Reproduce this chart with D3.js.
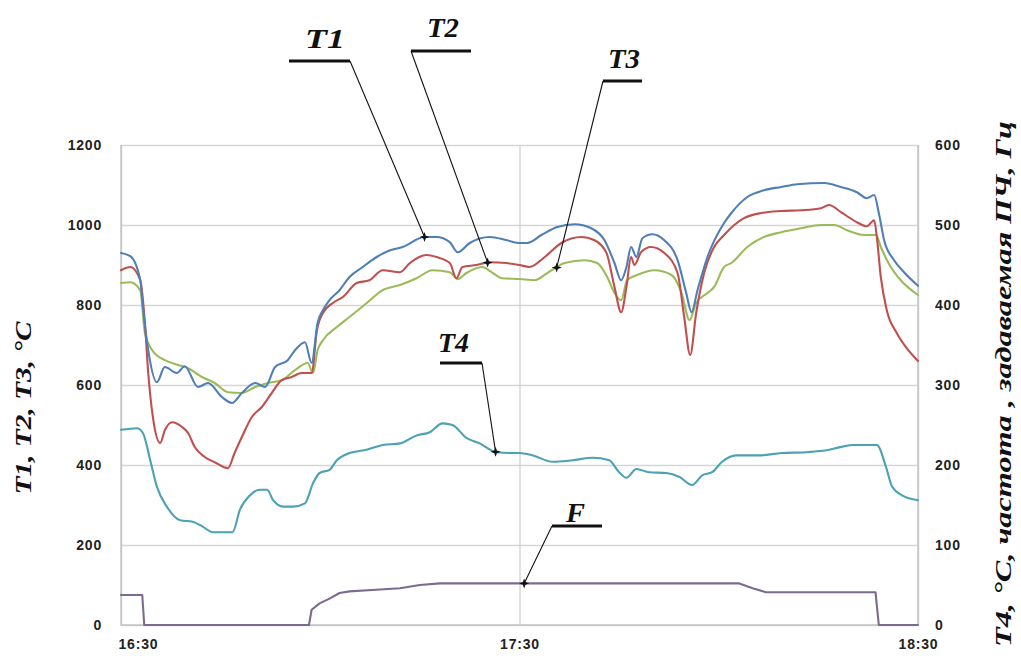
<!DOCTYPE html>
<html>
<head>
<meta charset="utf-8">
<script src="https://cdn.jsdelivr.net/npm/d3@7"></script>
<style>
  html, body { margin: 0; padding: 0; background: #fff; }
  svg { display: block; }
  .tick text { font-family: "Liberation Sans", Arial, sans-serif; font-weight: bold; font-size: 14px; letter-spacing: 0.8px; fill: #222; }
  .title { font-family: "Liberation Serif", "Times New Roman", serif; font-weight: bold; font-style: italic; fill: #111; }
</style>
</head>
<body>
<svg id="chart" width="1021" height="656"></svg>
<script>
// Time is measured in minutes after 16:30; temperatures in °C, frequency in Hz.
const t1 = [[0,930],[1.4,922],[2.9,862],[3.3,795],[4.1,687],[5.4,607],[6.6,645],[8.4,630],[9.6,647],[11.6,595],[13.1,605],[15.2,570],[16.7,555],[18.2,580],[20.2,605],[21.7,595],[23.2,645],[25.1,662],[26.2,687],[27.7,707],[28.7,655],[29.6,755],[30.4,787],[31.4,812],[32.9,837],[34.4,870],[36.4,895],[38.5,920],[40.5,937],[42.4,945],[45.7,970],[47.5,970],[49.5,957],[50.7,932],[52.5,955],[55.5,970],[58.1,962],[60,955],[61.2,955],[63.3,975],[65.7,995],[68.3,1002],[70.8,992],[72.8,962],[74.3,905],[75.3,862],[76.1,895],[76.8,945],[77.6,920],[78.5,967],[80,977],[81.8,962],[83.8,912],[85.1,830],[85.9,782],[86.8,837],[88.3,920],[90.8,1005],[91.9,1030],[94.3,1070],[96.8,1087],[99.4,1095],[101.8,1102],[105.9,1105],[108.4,1095],[110.8,1082],[112.3,1067],[113.4,1075],[114.1,1030],[114.9,962],[116.4,912],[117.9,882],[120,848]];

const t2 = [[0,887],[1.4,895],[2.9,862],[3.6,755],[4.1,630],[4.8,520],[5.9,455],[6.6,487],[7.7,507],[9.2,495],[10.1,480],[11.1,445],[12.6,420],[14.1,407],[16.1,392],[17.1,430],[18.2,470],[19.7,520],[21.2,545],[22.7,580],[24.2,612],[25.7,620],[27.2,630],[28.7,630],[29.5,737],[30.4,780],[31.9,805],[33.4,820],[35.5,855],[37.4,862],[39.4,887],[42,882],[43.5,905],[46,925],[47.5,920],[49.5,905],[50.5,867],[51.4,895],[53.5,900],[55.5,907],[58,905],[60,900],[61.5,895],[63.8,920],[66.3,955],[69.3,970],[71.3,962],[73.1,930],[74.3,845],[75.3,782],[76.1,845],[76.8,920],[77.3,900],[78.3,932],[79.8,945],[81.8,930],[83.8,880],[84.8,770],[85.7,675],[86.6,780],[87.8,880],[89.3,945],[90.8,975],[93.8,1017],[96.4,1030],[99.4,1035],[102.4,1037],[105.4,1042],[106.6,1050],[108.4,1032],[110.8,1007],[112.3,997],[113.4,1012],[113.8,970],[114.4,870],[115.3,787],[116.8,730],[118.3,692],[120,660]];

const t3 = [[0,855],[1.4,857],[2.9,837],[3.6,730],[4.7,687],[6.6,662],[8.6,650],[10.1,642],[12.2,620],[14.1,605],[16.1,582],[18.2,580],[20.2,595],[22.1,605],[24.2,612],[26.2,637],[28.1,655],[28.9,630],[29.6,687],[30.4,712],[32.5,745],[34.4,770],[37,805],[39.4,837],[42,850],[44.5,867],[46.9,887],[49.5,882],[50.7,865],[52,880],[54.4,895],[55.8,882],[57.4,867],[60,865],[62.3,862],[64.2,880],[66.8,905],[69.8,912],[71.7,905],[73.2,870],[74.3,830],[75.3,812],[76.2,862],[77.7,875],[80.3,887],[82.9,875],[84.4,830],[85.6,762],[86.6,805],[88.3,830],[89.3,845],[90.8,895],[91.9,905],[94.3,945],[96.8,970],[99.4,982],[102.4,992],[105.4,1000],[107.4,1000],[109.3,987],[111.9,975],[113.7,975],[114.4,945],[115.9,895],[117.4,862],[120,825]];

const t4 = [[0,244],[2.4,246],[3.3,240],[4.4,206],[5.4,173],[6.9,148],[8.9,131],[10.8,129],[12.3,123],[13.8,116],[15.9,116],[16.8,116],[17.9,144],[19.4,162],[20.9,169],[22,169],[22.9,156],[24.4,148],[25.9,148],[27.7,152],[28.9,177],[29.9,190],[31.4,194],[32.5,206],[34.4,215],[37,219],[39.4,225],[42,227],[44.5,237],[46.5,241],[48.4,252],[49.9,250],[52,234],[54,227],[56.5,216],[58.5,215],[60,215],[62,212],[65,204],[68,206],[71,209],[73.5,206],[75,191],[76.1,184],[77.6,195],[79.5,191],[82.1,190],[84.1,185],[86,175],[87.5,187],[89,191],[90.5,204],[92.6,212],[96.1,212],[99.5,215],[103.2,216],[106.6,219],[108.1,222],[110.1,225],[112.2,225],[113.8,225],[115.2,197],[116.1,173],[117.6,162],[120,156]];

const freq = [[0,37.5],[3.2,37.5],[3.5,0],[28.3,0],[28.7,19],[29.9,27],[31.4,33],[32.9,40],[34.4,42],[38.4,44],[42,46],[45,50],[48,52],[93.1,52],[95.1,46],[97.1,41],[113.6,41],[114.1,0],[120,0]];

const leftTicks = [0, 200, 400, 600, 800, 1000, 1200];
const rightTicks = [0, 100, 200, 300, 400, 500, 600];
const timeTicks = ["16:30", "17:30", "18:30"];

const leftTitle = "T1, T2, T3, °C";
const rightTitle = "T4, °C, частота , задаваемая ПЧ, Гц";

const series = [
  { name: "T4", data: t4, axis: "right", color: "#4aa2b3" },
  { name: "F",  data: freq, axis: "right", color: "#7c6a90" },
  { name: "T3", data: t3, axis: "left", color: "#9bbb59" },
  { name: "T2", data: t2, axis: "left", color: "#c0504d" },
  { name: "T1", data: t1, axis: "left", color: "#4f7fb6" }
];

// Callouts: label, series, minute where the leader points, label anchor and underline
const callouts = [
  { label: "T1", series: "T1", at: 45.7, text: [305, 48, 40], bar: [289, 350, 61], from: [350, 61] },
  { label: "T2", series: "T2", at: 55.2, text: [427, 37, 32], bar: [411, 471, 51], from: [411, 51] },
  { label: "T3", series: "T3", at: 65.6, text: [608, 68, 32], bar: [603, 642, 81], from: [603, 81] },
  { label: "T4", series: "T4", at: 56.4, text: [438, 352, 31], bar: [440, 482, 363], from: [482, 363] },
  { label: "F",  series: "F",  at: 60.7, text: [566, 522, 19], bar: [552, 602, 526], from: [552, 526] }
];

const parseClock = d3.timeParse("%H:%M");
const start = parseClock("16:30");
const at = m => new Date(start.getTime() + m * 60000);

const svg = d3.select("#chart");
const L = 121, R = 918, T = 145, B = 625;

const x = d3.scaleTime().domain([at(0), at(120)]).range([L, R]);
const yL = d3.scaleLinear().domain([0, 1200]).range([B, T]);
const yR = d3.scaleLinear().domain([0, 600]).range([B, T]);

svg.append("rect").attr("width", 1021).attr("height", 656).attr("fill", "#fff");

// grid
const grid = svg.append("g").attr("transform", `translate(${L},0)`)
  .call(d3.axisLeft(yL).tickValues(leftTicks).tickSize(-(R - L)).tickFormat(""));
grid.selectAll("line").attr("stroke", "#d6d6d6").attr("stroke-width", 1.5);
grid.select(".domain").remove();

const vgrid = svg.append("g").attr("transform", `translate(0,${B})`)
  .call(d3.axisBottom(x).tickValues(timeTicks.map(parseClock)).tickSize(-(B - T)).tickFormat(""));
vgrid.selectAll("line").attr("stroke", "#d6d6d6").attr("stroke-width", 1.5);
vgrid.select(".domain").remove();

// frame
svg.append("path")
  .attr("d", `M${L},${T}V${B}H${R}V${T}`)
  .attr("fill", "none").attr("stroke", "#c4c4c4").attr("stroke-width", 1.5);

// axes
const axL = svg.append("g").attr("transform", `translate(${L},0)`)
  .call(d3.axisLeft(yL).tickValues(leftTicks).tickFormat(d3.format("d")).tickSize(0).tickPadding(19));
axL.select(".domain").remove();

const axR = svg.append("g").attr("transform", `translate(${R},0)`)
  .call(d3.axisRight(yR).tickValues(rightTicks).tickFormat(d3.format("d")).tickSize(0).tickPadding(17));
axR.select(".domain").remove();

const axB = svg.append("g").attr("transform", `translate(0,${B})`)
  .call(d3.axisBottom(x).tickValues(timeTicks.map(parseClock)).tickFormat(d3.timeFormat("%H:%M")).tickSize(0).tickPadding(14));
axB.select(".domain").remove();
axB.selectAll(".tick text").filter((d, i) => i === 0).attr("text-anchor", "start").attr("dx", -3);

// series lines
const lineFor = s => d3.line()
  .x(d => x(at(d[0])))
  .y(d => (s.axis === "left" ? yL : yR)(d[1]))
  .curve(s.name === "F" ? d3.curveLinear : d3.curveMonotoneX);

svg.append("g").selectAll("path").data(series).join("path")
  .attr("d", s => lineFor(s)(s.data))
  .attr("fill", "none")
  .attr("stroke", s => s.color)
  .attr("stroke-width", 2.1)
  .attr("stroke-linejoin", "round")
  .attr("stroke-linecap", "round");

// axis titles
svg.append("text").attr("class", "title")
  .attr("transform", "translate(31,408) rotate(-90)")
  .attr("text-anchor", "middle")
  .attr("font-size", 24)
  .attr("textLength", 173).attr("lengthAdjust", "spacingAndGlyphs")
  .text(leftTitle);

svg.append("text").attr("class", "title")
  .attr("transform", "translate(1011,384) rotate(-90)")
  .attr("text-anchor", "middle")
  .attr("font-size", 23)
  .attr("textLength", 526).attr("lengthAdjust", "spacingAndGlyphs")
  .text(rightTitle);

// callouts
const bisect = d3.bisector(d => d[0]).left;
function valueAt(data, m) {
  const i = Math.max(1, Math.min(data.length - 1, bisect(data, m)));
  const a = data[i - 1], b = data[i];
  return a[1] + (b[1] - a[1]) * (m - a[0]) / (b[0] - a[0]);
}
const star = "M0,-5L1.3,-1.3L5,0L1.3,1.3L0,5L-1.3,1.3L-5,0L-1.3,-1.3Z";

const cg = svg.append("g");
callouts.forEach(c => {
  const s = series.find(d => d.name === c.series);
  const px = x(at(c.at));
  const py = (s.axis === "left" ? yL : yR)(valueAt(s.data, c.at));
  cg.append("line")
    .attr("x1", c.from[0]).attr("y1", c.from[1]).attr("x2", px).attr("y2", py)
    .attr("stroke", "#111").attr("stroke-width", 1.1);
  cg.append("line")
    .attr("x1", c.bar[0]).attr("x2", c.bar[1]).attr("y1", c.bar[2]).attr("y2", c.bar[2])
    .attr("stroke", "#111").attr("stroke-width", 3);
  cg.append("path").attr("d", star).attr("transform", `translate(${px},${py})`).attr("fill", "#111");
  cg.append("text").attr("class", "title")
    .attr("x", c.text[0]).attr("y", c.text[1])
    .attr("font-size", 28)
    .attr("textLength", c.text[2]).attr("lengthAdjust", "spacingAndGlyphs")
    .text(c.label);
});
</script>
</body>
</html>
